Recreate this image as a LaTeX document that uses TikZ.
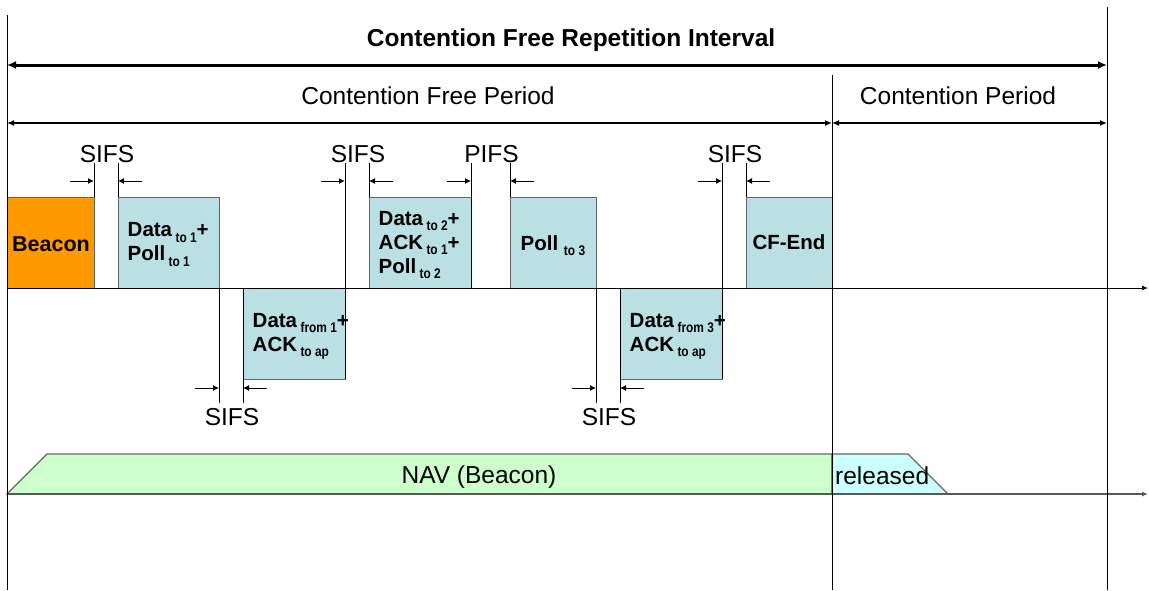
\documentclass[tikz,border=0pt]{standalone}
\usepackage{fontspec}
\usepackage{graphicx}
\setmainfont{Liberation Sans}
\usetikzlibrary{arrows.meta,calc}
\definecolor{cfblue}{RGB}{187,224,227}
\definecolor{beaconorange}{RGB}{255,153,0}
\definecolor{navgreen}{RGB}{204,255,204}
\definecolor{navcyan}{RGB}{204,255,255}
\newcommand{\sbs}[1]{\raisebox{-5.5pt}{\scalebox{0.85}[1]{\fontsize{14}{14}\selectfont #1}}}
\begin{document}
\begin{tikzpicture}[x=1pt,y=-1pt,
  ln/.style={line width=1pt,black},
  gap/.style={line width=1pt,-{Latex[length=6pt,width=6pt]}},
  pkt/.style={draw=black!60,line width=1pt,fill=cfblue,inner sep=0,minimum height=91pt},
  lbl/.style={font=\fontsize{24.5}{28}\selectfont,inner sep=0,anchor=base},
  plbl/.style={font=\bfseries\fontsize{20.5}{24}\selectfont,inner sep=0,align=left,anchor=west},
]
\useasboundingbox (0,0) rectangle (1149,590);
\fill[white] (0,0) rectangle (1149,590);

% packets
\node[pkt,fill=beaconorange,minimum width=87pt] (bcn) at (50.5,242.5) {};
\node[pkt,minimum width=101pt] (d1) at (168.5,242.5) {};
\node[pkt,minimum width=102pt] (d2) at (294,333.5) {};
\node[pkt,minimum width=102pt] (d3) at (420,242.5) {};
\node[pkt,minimum width=86pt] (p3) at (553,242.5) {};
\node[pkt,minimum width=102pt] (d5) at (671,333.5) {};
\node[pkt,minimum width=86pt] (cfe) at (789,242.5) {};

\node[plbl,anchor=center,font=\bfseries\fontsize{21.5}{24}\selectfont] (tb) at (51,244.5) {Beacon};
\node[plbl] (t1) at ($(d1.west)+(10,2)$) {Data\,\sbs{to 1}+\\Poll\,\sbs{to 1}};
\node[plbl] (t2) at ($(d2.west)+(10,3)$) {Data\,\sbs{from 1}+\\ACK\,\sbs{to ap}};
\node[plbl] (t3) at ($(d3.west)+(10,2.5)$) {Data\,\sbs{to 2}+\\ACK\,\sbs{to 1}+\\Poll\,\sbs{to 2}};
\node[plbl] (t4) at ($(p3.west)+(11,3)$) {Poll\;\sbs{to 3}};
\node[plbl] (t5) at ($(d5.west)+(10,3)$) {Data\,\sbs{from 3}+\\ACK\,\sbs{to ap}};
\node[plbl,anchor=center] (t6) at (789,242.5) {CF-End};

% NAV
\filldraw[fill=navgreen,draw=black!60,line width=1.2pt] (7,494) -- (47,454) -- (832,454) -- (832,494) -- cycle;
\filldraw[fill=navcyan,draw=black!60,line width=1.2pt] (832,454) -- (908,454) -- (948,494) -- (832,494) -- cycle;
\node[lbl] (nav) at (479,483) {NAV (Beacon)};
\node[lbl,anchor=base west] (rel) at (835,484) {released};

% time axes
\coordinate (ax1s) at (7,288); \coordinate (ax1e) at (1148,288);
\coordinate (ax2s) at (7,494); \coordinate (ax2e) at (1148,494);
\draw[ln,-{Latex[length=6pt,width=5pt]}] (ax1s) -- (ax1e);
\draw[line width=1.2pt,black!65,-{Latex[length=6pt,width=5pt]}] (ax2s) -- (ax2e);

% boundaries
\coordinate (vl0) at (7,15);   \coordinate (vl1) at (7,590);
\coordinate (vm0) at (832,75); \coordinate (vm1) at (832,590);
\coordinate (vr0) at (1107,7); \coordinate (vr1) at (1107,590);
\draw[ln] (vl0) -- (vl1);
\draw[ln] (vm0) -- (vm1);
\draw[ln] (vr0) -- (vr1);

% interval arrows
\coordinate (cri0) at (7,65); \coordinate (cri1) at (1107,65);
\draw[line width=3pt,{Latex[length=9pt,width=8pt]}-{Latex[length=9pt,width=8pt]}] (cri0) -- (cri1);
\node[lbl,font=\bfseries\fontsize{24.5}{28}\selectfont] (title) at (571,46) {Contention Free Repetition Interval};
\coordinate (cfp0) at (7,123); \coordinate (cfp1) at (832,123); \coordinate (cp1) at (1107,123);
\draw[line width=1.5pt,{Latex[length=7pt,width=6pt]}-{Latex[length=7pt,width=6pt]}] (cfp0) -- (cfp1);
\draw[line width=1.5pt,{Latex[length=7pt,width=6pt]}-{Latex[length=7pt,width=6pt]}] (cfp1) -- (cp1);
\node[lbl] (cfpl) at (428,104) {Contention Free Period};
\node[lbl] (cpl) at (958,104) {Contention Period};

% upper gap markers
\foreach \xl/\xr/\t/\bl [count=\i] in {94/118/SIFS/197,345/369/SIFS/379,471/510/PIFS/288,722/746/SIFS/379}{
  \coordinate (ua\i) at (\xl,163); \coordinate (ub\i) at (\xl,\bl);
  \coordinate (uc\i) at (\xr,163); \coordinate (ud\i) at (\xr,197);
  \draw[ln] (ua\i) -- (ub\i);
  \draw[ln] (uc\i) -- (ud\i);
  \coordinate (ue\i) at (\xl-24,181); \coordinate (uf\i) at (\xl,181);
  \coordinate (ug\i) at (\xr+24,181); \coordinate (uh\i) at (\xr,181);
  \draw[gap] (ue\i) -- (uf\i);
  \draw[gap] (ug\i) -- (uh\i);
  \node[lbl] (ul\i) at ({(\xl+\xr)/2+1},162) {\t};
}
% lower gap markers
\foreach \xl/\xr [count=\i] in {219/243,596/620}{
  \coordinate (la\i) at (\xl,288); \coordinate (lb\i) at (\xl,403);
  \coordinate (lc\i) at (\xr,288); \coordinate (ld\i) at (\xr,403);
  \draw[ln] (la\i) -- (lb\i);
  \draw[ln] (lc\i) -- (ld\i);
  \coordinate (le\i) at (\xl-24,388); \coordinate (lf\i) at (\xl,388);
  \coordinate (lg\i) at (\xr+24,388); \coordinate (lh\i) at (\xr,388);
  \draw[gap] (le\i) -- (lf\i);
  \draw[gap] (lg\i) -- (lh\i);
  \node[lbl] (ll\i) at ({(\xl+\xr)/2+1},425) {SIFS};
}
\end{tikzpicture}
\end{document}
